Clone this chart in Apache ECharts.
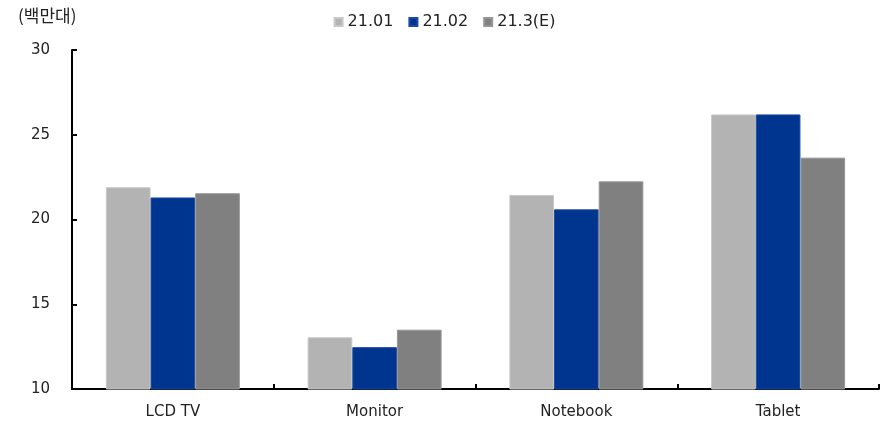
<!DOCTYPE html>
<html>
<head>
<meta charset="utf-8">
<script src="https://cdn.jsdelivr.net/npm/echarts@6/dist/echarts.min.js"></script>
<style>html,body{margin:0;padding:0;background:#fff}#c{width:889px;height:425px}</style>
</head>
<body>
<div id="c"></div>
<script>
const categories = ['LCD TV', 'Monitor', 'Notebook', 'Tablet'];
const seriesNames = ['21.01', '21.02', '21.3(E)'];
const s2101 = [21.9, 13.05, 21.45, 26.2];
const s2102 = [21.3, 12.47, 20.6, 26.2];
const s2103E = [21.55, 13.5, 22.25, 23.65];
const yTicks = [10, 15, 20, 25, 30];
const unitLabel = '(백만대)';

const colors = ['#b3b3b3', '#00358f', '#808080'];
const borders = ['#c8c8c8', '#1d4aa0', '#969696'];
const font = '"DejaVu Sans", "Noto Sans CJK KR", sans-serif';
const chart = echarts.init(document.getElementById('c'));
const data = [s2101, s2102, s2103E];
chart.setOption({
  animation: false,
  textStyle: { fontFamily: font },
  grid: { left: 72, right: 10, top: 50, bottom: 36, containLabel: false },
  legend: {
    top: 9, left: 'center', itemWidth: 8, itemHeight: 8, itemGap: 15,
    icon: 'rect',
    textStyle: { fontSize: 16, color: '#222', fontFamily: font },
    data: seriesNames
  },
  graphic: [{
    type: 'text', left: 18, top: 7,
    style: { text: unitLabel, fontSize: 17, fill: '#222', fontFamily: '"Noto Sans CJK KR", sans-serif' }
  }],
  xAxis: {
    type: 'category', data: categories,
    axisLine: { lineStyle: { color: '#000', width: 2 } },
    axisTick: { show: true, inside: true, length: 5, lineStyle: { color: '#000', width: 2 } },
    axisLabel: { fontSize: 15, color: '#222', margin: 16 }
  },
  yAxis: {
    type: 'value', min: yTicks[0], max: yTicks[yTicks.length - 1], interval: 5,
    axisLine: { show: true, lineStyle: { color: '#000', width: 2 } },
    axisTick: { show: true, inside: true, length: 5, lineStyle: { color: '#000', width: 2 } },
    splitLine: { show: false },
    axisLabel: { fontSize: 15, color: '#222', margin: 22 }
  },
  series: seriesNames.map((n, i) => ({
    name: n, type: 'bar', data: data[i],
    barGap: '0%', barCategoryGap: '33.6%',
    itemStyle: { color: colors[i], borderColor: borders[i], borderWidth: 1 }
  }))
});
</script>
</body>
</html>
